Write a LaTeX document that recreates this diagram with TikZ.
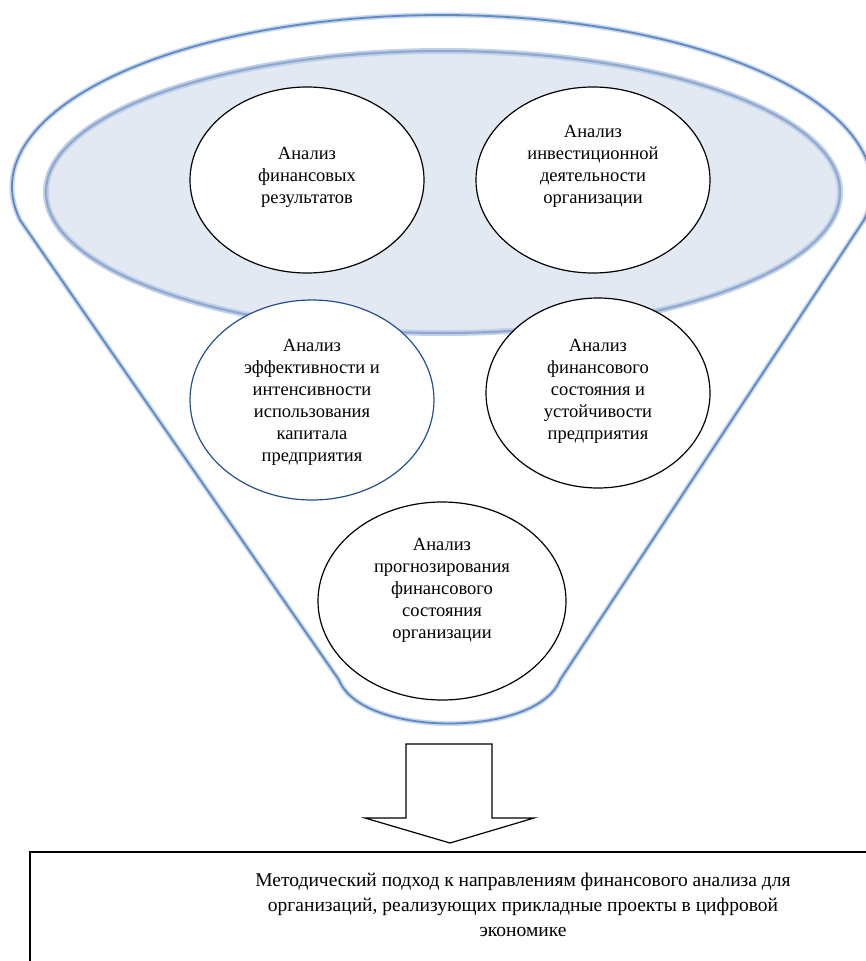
\documentclass[tikz,border=0pt]{standalone}
\usepackage{fontspec}
\setmainfont{Liberation Serif}
\usetikzlibrary{shapes.geometric}
\definecolor{funnelblue}{HTML}{5D8AC4}
\definecolor{glowblue}{HTML}{C9D7EC}
\definecolor{bowlfill}{HTML}{E3E9F3}
\definecolor{bowlline}{HTML}{8FA9D2}
\definecolor{bowlglow}{HTML}{C2D1E8}
\definecolor{darkring}{HTML}{23508C}
\tikzset{
  oval/.style={ellipse, draw=black, line width=1.2pt, fill=white, inner sep=0pt},
  ovaltext/.style={align=center, inner sep=0pt, font=\fontsize{18.5}{22}\selectfont},
}
\begin{document}
\begin{tikzpicture}[x=1pt,y=-1pt]
\useasboundingbox (0,0) rectangle (866,961);
% funnel
\draw[glowblue, line width=5pt] (20,220) arc (168.94:371.06:430 and 172) -- (560,680) .. controls (537,738) and (362,738) .. (339,680) -- cycle;
\draw[funnelblue, line width=1.8pt] (20,220) arc (168.94:371.06:430 and 172) -- (560,680) .. controls (537,738) and (362,738) .. (339,680) -- cycle;
\draw[bowlglow, line width=6pt, fill=bowlfill] (443,192) ellipse (397 and 141);
\draw[bowlline, line width=2.2pt] (443,192) ellipse (397 and 141);
% circles
\node[oval, minimum width=234pt, minimum height=186pt] (fin) at (307,180) {};
\node[ovaltext] (fintext) at (307,177) {Анализ\\финансовых\\результатов};
\node[oval, minimum width=234pt, minimum height=186pt] (inv) at (593,180) {};
\node[ovaltext] (invtext) at (593,166) {Анализ\\инвестиционной\\деятельности\\организации};
\node[oval, draw=darkring, minimum width=244pt, minimum height=200pt] (eff) at (312,400) {};
\node[ovaltext] (efftext) at (312,402) {Анализ\\эффективности и\\интенсивности\\использования\\капитала\\предприятия};
\node[oval, minimum width=224pt, minimum height=190pt] (sost) at (598,393) {};
\node[ovaltext] (sosttext) at (598,391) {Анализ\\финансового\\состояния и\\устойчивости\\предприятия};
\node[oval, minimum width=248pt, minimum height=198pt] (prog) at (442,601) {};
\node[ovaltext] (progtext) at (442,590) {Анализ\\прогнозирования\\финансового\\состояния\\организации};
% arrow
\draw[line width=1.2pt] (406,744) -- (492,744) -- (492,818) -- (534,818) -- (450,843) -- (365,818) -- (406,818) -- cycle;
% result
\draw[line width=1.2pt] (30,990) |- (900,852);
\node[align=center, font=\fontsize{19.5}{25}\selectfont] (method) at (523,905) {Методический подход к направлениям финансового анализа для\\организаций, реализующих прикладные проекты в цифровой\\экономике};
\end{tikzpicture}
\end{document}
